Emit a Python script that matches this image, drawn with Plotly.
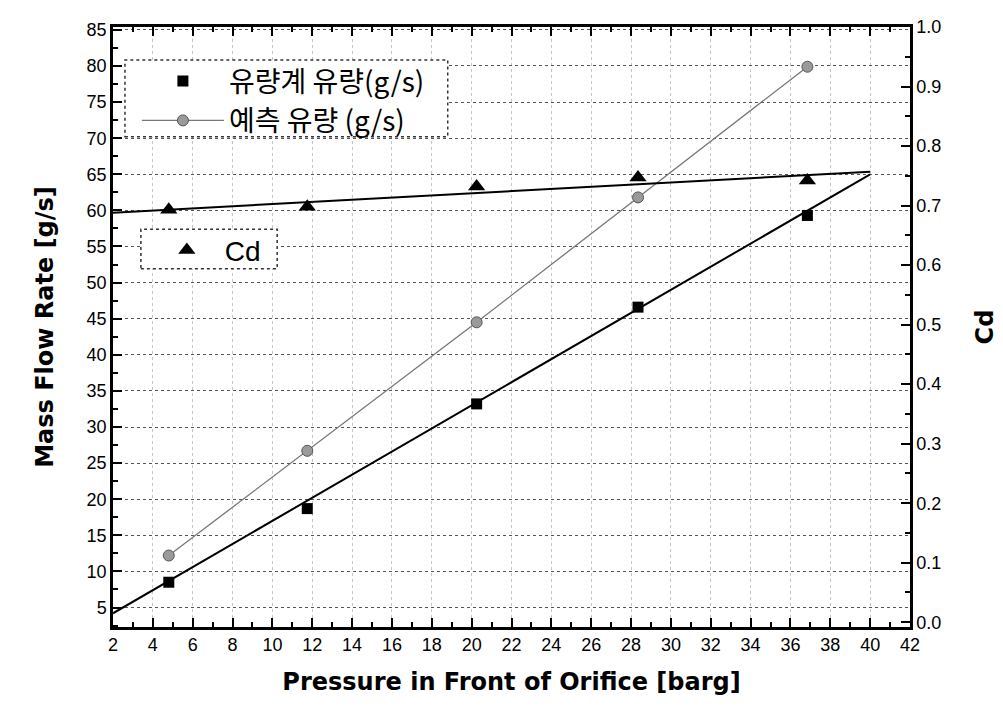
import plotly.graph_objects as go

# ---- data ----
pressure = [4.8, 11.75, 20.25, 28.35, 36.85]
meter_flow = [8.5, 18.7, 33.2, 46.6, 59.3]          # 유량계 유량 (g/s)
pred_flow = [12.2, 26.7, 44.5, 61.8, 79.9]          # 예측 유량 (g/s)
cd_vals = [0.693, 0.698, 0.732, 0.747, 0.742]       # Cd

meter_fit_x = [2.0, 40.0]
meter_fit_y = [4.2, 65.0]
cd_fit_x = [2.0, 40.0]
cd_fit_y = [0.688, 0.757]

x_ticks = list(range(2, 43, 2))
y_ticks = list(range(5, 86, 5))
y2_ticks = [round(i * 0.1, 1) for i in range(11)]

FONT = "Liberation Sans, Arial, sans-serif"
TFONT = "DejaVu Sans, Liberation Sans, sans-serif"
KFONT = "Noto Sans CJK KR, sans-serif"

fig = go.Figure()

fig.add_trace(go.Scatter(x=meter_fit_x, y=meter_fit_y, mode="lines",
                         line=dict(color="black", width=2), showlegend=False,
                         hoverinfo="skip"))
fig.add_trace(go.Scatter(x=pressure, y=meter_flow, mode="markers",
                         name="유량계 유량(g/s)",
                         marker=dict(symbol="square", size=11, color="black"),
                         legend="legend"))
fig.add_trace(go.Scatter(x=pressure, y=pred_flow, mode="lines+markers",
                         name="예측 유량 (g/s)",
                         line=dict(color="#777777", width=1.3),
                         marker=dict(symbol="circle", size=11, color="#9a9a9a",
                                     line=dict(color="#555555", width=1)),
                         legend="legend"))
fig.add_trace(go.Scatter(x=cd_fit_x, y=cd_fit_y, mode="lines", yaxis="y2",
                         line=dict(color="black", width=2), showlegend=False,
                         hoverinfo="skip"))
fig.add_trace(go.Scatter(x=pressure, y=cd_vals, mode="markers", yaxis="y2",
                         name="Cd",
                         marker=dict(symbol="triangle-up", size=15, color="black"),
                         legend="legend2"))

axis_common = dict(showline=True, linecolor="black", linewidth=2.5,
                   ticks="inside", tickcolor="black", ticklen=9, tickwidth=2,
                   zeroline=False, automargin=False,
                   tickfont=dict(family=FONT, size=18, color="black"))

fig.update_layout(
    width=995, height=704,
    margin=dict(l=105, r=93, t=19, b=85),
    paper_bgcolor="white", plot_bgcolor="white",
    xaxis=dict(range=[2, 42], tickvals=x_ticks, mirror="ticks",
               showgrid=True, gridcolor="#c4c4c4", griddash="dot", gridwidth=1.2,
               minor=dict(dtick=1, ticks="inside", ticklen=5, tickcolor="black",
                          tickwidth=1.5, showgrid=False),
               title=dict(text="<b>Pressure in Front of Orifice [barg]</b>",
                          font=dict(family=TFONT, size=24, color="black"),
                          standoff=19),
               **axis_common),
    yaxis=dict(range=[2.3, 85.4], tickvals=y_ticks,
               showgrid=True, gridcolor="#555555", griddash="dot", gridwidth=1.2,
               minor=dict(dtick=2.5, tick0=0, ticks="inside", ticklen=5,
                          tickcolor="black", tickwidth=1.5, showgrid=False),
               title=dict(text="<b>Mass Flow Rate [g/s]</b>",
                          font=dict(family=TFONT, size=24, color="black"),
                          standoff=27),
               **axis_common),
    yaxis2=dict(range=[-0.008, 1.0], tickvals=y2_ticks, tickformat=".1f",
                overlaying="y", side="right", showgrid=False,
                minor=dict(dtick=0.05, tick0=0, ticks="inside", ticklen=5,
                           tickcolor="black", tickwidth=1.5, showgrid=False),
                title=dict(text="<b>Cd</b>",
                           font=dict(family=TFONT, size=24, color="black"),
                           standoff=36),
                **axis_common),
    legend=dict(x=0.030, y=0.877, xanchor="left", yanchor="middle",
                bgcolor="rgba(0,0,0,0)", borderwidth=0,
                font=dict(family=KFONT, size=28, color="black"),
                itemwidth=82, tracegroupgap=0),
    legend2=dict(x=0.045, y=0.628, xanchor="left", yanchor="middle",
                 bgcolor="rgba(0,0,0,0)", borderwidth=0,
                 font=dict(family=FONT, size=28, color="black"),
                 itemwidth=66),
    shapes=[
        dict(type="rect", xref="paper", yref="paper",
             x0=0.015, x1=0.420, y0=0.817, y1=0.945,
             line=dict(color="#333333", width=1.5, dash="dot"),
             fillcolor="white", layer="above"),
        dict(type="rect", xref="paper", yref="paper",
             x0=0.035, x1=0.206, y0=0.597, y1=0.663,
             line=dict(color="#333333", width=1.5, dash="dot"),
             fillcolor="white", layer="above"),
    ],
)

fig.write_html("out.html")
